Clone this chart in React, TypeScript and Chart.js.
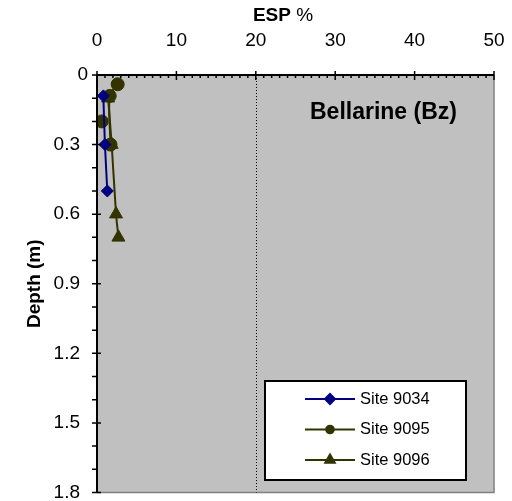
import { useEffect, useRef } from "react";
import { Chart, registerables } from "chart.js";
import { drawPoint } from "chart.js/helpers";

Chart.register(...registerables);

// Exchangeable sodium percentage (ESP %) against depth (m) for each site.
const SITE_9034_ESP = [0.8, 1.0, 1.3];
const SITE_9034_DEPTH = [0.09, 0.3, 0.5];

// null marks a break in the line: the 0.2 m reading stands on its own.
const SITE_9095_ESP = [2.6, 1.6, 1.7, null, 0.6];
const SITE_9095_DEPTH = [0.04, 0.09, 0.3, null, 0.2];

const SITE_9096_ESP = [1.4, 1.85, 2.4, 2.7];
const SITE_9096_DEPTH = [0.1, 0.3, 0.6, 0.7];

const SITE_LABELS = ["Site 9034", "Site 9095", "Site 9096"];
const SITE_COLORS = ["#000080", "#333300", "#333300"];
const SITE_MARKERS = ["rectRot", "circle", "triangle"];

const ESP_MIN = 0;
const ESP_MAX = 50;
const ESP_STEP = 10;
const DEPTH_MIN = 0;
const DEPTH_MAX = 1.8;
const DEPTH_STEP = 0.3;
const ESP_THRESHOLD = 20;

const PANEL_TITLE = "Bellarine (Bz)";
const FONT = "'Liberation Sans', Arial, sans-serif";

const toPoints = (xs: (number | null)[], ys: (number | null)[]) =>
  xs.map((x, i) => ({ x, y: ys[i] }));

const depthLabel = (v: number) => (v === 0 ? "0" : v.toFixed(1));

const decorations = {
  id: "decorations",
  beforeDraw(chart: any) {
    const { ctx, chartArea: a } = chart;
    ctx.save();
    ctx.fillStyle = "#c0c0c0";
    ctx.fillRect(a.left, a.top, a.right - a.left, a.bottom - a.top);
    ctx.strokeStyle = "#808080";
    ctx.lineWidth = 1.5;
    ctx.beginPath();
    ctx.moveTo(a.right, a.top);
    ctx.lineTo(a.right, a.bottom);
    ctx.lineTo(a.left, a.bottom);
    ctx.stroke();
    ctx.restore();
  },
  beforeDatasetsDraw(chart: any) {
    const { ctx, chartArea: a, scales } = chart;
    const x = Math.round(scales.x.getPixelForValue(ESP_THRESHOLD)) + 0.5;
    ctx.save();
    ctx.strokeStyle = "#000";
    ctx.lineWidth = 1;
    ctx.setLineDash([1, 2]);
    ctx.beginPath();
    ctx.moveTo(x, a.top);
    ctx.lineTo(x, a.bottom);
    ctx.stroke();
    ctx.restore();
  },
  afterDatasetsDraw(chart: any) {
    const { ctx, chartArea: a, scales } = chart;
    const xs = scales.x;
    const ys = scales.y;
    ctx.save();
    ctx.strokeStyle = "#000";
    ctx.lineWidth = 2;
    ctx.beginPath();
    ctx.moveTo(a.left, a.bottom);
    ctx.lineTo(a.left, a.top);
    ctx.lineTo(a.right, a.top);
    ctx.stroke();

    ctx.lineWidth = 1.5;
    ctx.beginPath();
    // top axis: minor ticks inside every 1 %, major ticks crossing
    for (let v = ESP_MIN; v <= ESP_MAX; v += 1) {
      const px = xs.getPixelForValue(v);
      if (v % ESP_STEP === 0) {
        ctx.moveTo(px, a.top - 4);
        ctx.lineTo(px, a.top + 5);
      } else {
        ctx.moveTo(px, a.top);
        ctx.lineTo(px, a.top + 3);
      }
    }
    // left axis: minor ticks outside every 0.1 m, major ticks crossing
    for (let i = 0; i <= Math.round(DEPTH_MAX * 10); i++) {
      const v = i / 10;
      const py = ys.getPixelForValue(v);
      if (i % 3 === 0) {
        ctx.moveTo(a.left - 5, py);
        ctx.lineTo(a.left + 4, py);
      } else {
        ctx.moveTo(a.left - 5, py);
        ctx.lineTo(a.left, py);
      }
    }
    ctx.stroke();

    // depth tick labels
    ctx.fillStyle = "#000";
    ctx.font = `19px ${FONT}`;
    ctx.textAlign = "right";
    ctx.textBaseline = "middle";
    ys.ticks.forEach((t: any) => {
      const v = Math.round(t.value * 10) / 10;
      const py = ys.getPixelForValue(v);
      ctx.fillText(depthLabel(v), v === 0 ? 88 : 80, py);
    });
    ctx.restore();
  },
  afterDraw(chart: any) {
    const { ctx, chartArea: a } = chart;
    ctx.save();
    ctx.fillStyle = "#000";
    ctx.textBaseline = "middle";

    // top axis title: "ESP" bold followed by a plain "%"
    ctx.font = `bold 19px ${FONT}`;
    const w1 = ctx.measureText("ESP").width;
    ctx.font = `19px ${FONT}`;
    const w2 = ctx.measureText(" %").width;
    const start = 283 - (w1 + w2) / 2;
    ctx.textAlign = "left";
    ctx.font = `bold 19px ${FONT}`;
    ctx.fillText("ESP", start, 16);
    ctx.font = `19px ${FONT}`;
    ctx.fillText(" %", start + w1, 16);

    // left axis title
    ctx.save();
    ctx.translate(35, (a.top + a.bottom) / 2);
    ctx.rotate(-Math.PI / 2);
    ctx.textAlign = "center";
    ctx.font = `bold 19px ${FONT}`;
    ctx.fillText("Depth (m)", 0, 0);
    ctx.restore();

    // panel title
    ctx.textAlign = "left";
    ctx.textBaseline = "alphabetic";
    ctx.font = `bold 23px ${FONT}`;
    ctx.fillText(PANEL_TITLE, 310, 118.5);
    ctx.textBaseline = "middle";

    // legend box
    const bx = 265, by = 381, bw = 201, bh = 99;
    ctx.fillStyle = "#fff";
    ctx.fillRect(bx, by, bw, bh);
    ctx.strokeStyle = "#000";
    ctx.lineWidth = 2;
    ctx.strokeRect(bx, by, bw, bh);

    chart.data.datasets.forEach((ds: any, i: number) => {
      const y = by + 18 + i * 30.5;
      ctx.strokeStyle = ds.borderColor;
      ctx.lineWidth = 2;
      ctx.beginPath();
      ctx.moveTo(305, y);
      ctx.lineTo(355, y);
      ctx.stroke();
      ctx.fillStyle = ds.backgroundColor;
      drawPoint(ctx, {
        pointStyle: ds.pointStyle,
        radius: [5, 3.8, 5.5][i],
        rotation: 0,
        borderWidth: 1,
      } as any, 330, y);
      ctx.fillStyle = "#000";
      ctx.font = `16.5px ${FONT}`;
      ctx.textAlign = "left";
      ctx.fillText(ds.label, 360, y);
    });
    ctx.restore();
  },
};

export default function App() {
  const ref = useRef<HTMLCanvasElement | null>(null);

  useEffect(() => {
    if (!ref.current) return;
    const series = [
      { esp: SITE_9034_ESP, depth: SITE_9034_DEPTH, r: 6 },
      { esp: SITE_9095_ESP, depth: SITE_9095_DEPTH, r: 6.5 },
      { esp: SITE_9096_ESP, depth: SITE_9096_DEPTH, r: 7.5 },
    ];
    const chart = new Chart(ref.current, {
      type: "scatter",
      data: {
        datasets: series.map((s, i) => ({
          label: SITE_LABELS[i],
          data: toPoints(s.esp, s.depth),
          showLine: true,
          spanGaps: false,
          tension: 0.3,
          borderColor: SITE_COLORS[i],
          backgroundColor: SITE_COLORS[i],
          borderWidth: 2,
          pointStyle: SITE_MARKERS[i],
          pointRadius: s.r,
          pointBorderWidth: 1,
          pointHoverRadius: s.r,
        })) as any,
      },
      options: {
        animation: false,
        responsive: true,
        maintainAspectRatio: false,
        layout: { padding: { left: 0, top: 0, right: 18, bottom: 8 } },
        plugins: {
          legend: { display: false },
          tooltip: { enabled: false },
        },
        scales: {
          x: {
            type: "linear",
            position: "top",
            min: ESP_MIN,
            max: ESP_MAX,
            grid: { display: false, drawTicks: false },
            border: { display: false },
            ticks: {
              stepSize: ESP_STEP,
              padding: 23,
              color: "#000",
              font: { family: FONT, size: 19 },
              maxRotation: 0,
            },
            afterFit: (s: any) => {
              s.height = 75;
              s.paddingLeft = 0;
              s.paddingRight = 0;
            },
          },
          y: {
            type: "linear",
            reverse: true,
            min: DEPTH_MIN,
            max: DEPTH_MAX,
            grid: { display: false, drawTicks: false },
            border: { display: false },
            ticks: {
              stepSize: DEPTH_STEP,
              display: false,
              font: { family: FONT, size: 19 },
            },
            afterFit: (s: any) => {
              s.width = 97;
              s.paddingTop = 0;
              s.paddingBottom = 0;
            },
          },
        },
      },
      plugins: [decorations],
    });
    return () => chart.destroy();
  }, []);

  return (
    <div style={{ position: "absolute", left: 0, top: 0, width: 512, height: 501 }}>
      <canvas ref={ref} />
    </div>
  );
}
